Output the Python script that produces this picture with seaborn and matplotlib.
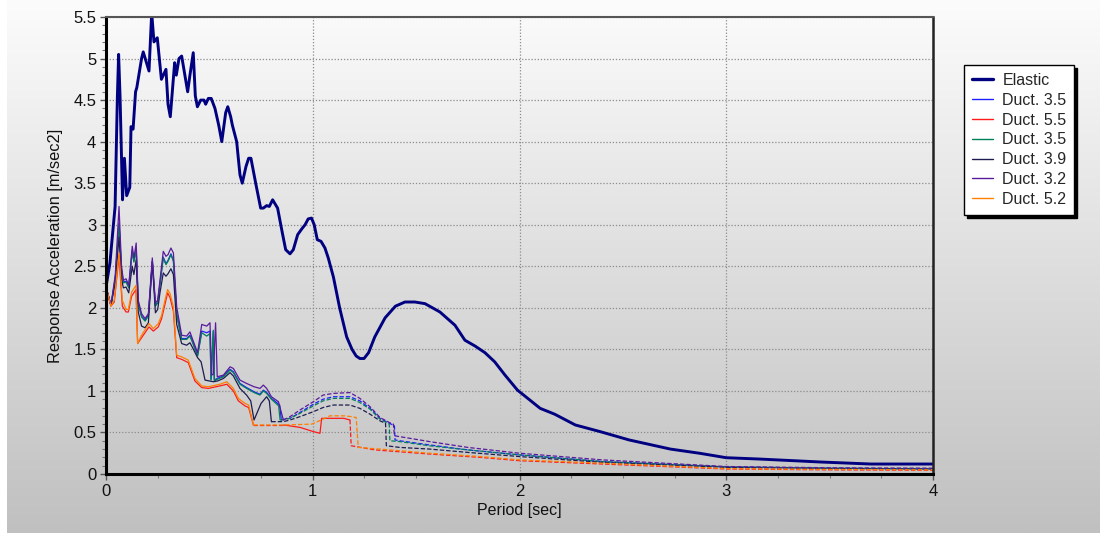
import numpy as np
import pandas as pd
import matplotlib
matplotlib.use("Agg")
import matplotlib.pyplot as plt
import seaborn as sns
from matplotlib.lines import Line2D
from matplotlib.ticker import MultipleLocator
from matplotlib.colors import LinearSegmentedColormap

# ---------------- data ----------------
elastic_T = [0, 0.019, 0.044, 0.055, 0.061, 0.068, 0.08, 0.089, 0.10, 0.115,
             0.121, 0.131, 0.143, 0.149, 0.172, 0.18, 0.208, 0.221, 0.232, 0.248,
             0.268, 0.29, 0.30, 0.311, 0.332, 0.34, 0.353, 0.366, 0.395, 0.406,
             0.422, 0.432, 0.442, 0.458, 0.474, 0.482, 0.495, 0.509, 0.527, 0.545,
             0.56, 0.579, 0.589, 0.603, 0.611, 0.632, 0.648, 0.659, 0.677, 0.69,
             0.701, 0.724, 0.748, 0.761, 0.777, 0.79, 0.806, 0.83, 0.853, 0.869,
             0.89, 0.906, 0.927, 0.947, 0.963, 0.978, 0.994, 1.007, 1.022, 1.04,
             1.059, 1.075, 1.10, 1.13, 1.164, 1.19, 1.21, 1.228, 1.248, 1.27,
             1.30, 1.35, 1.40, 1.446, 1.494, 1.543, 1.615, 1.688, 1.736, 1.785,
             1.833, 1.88, 1.93, 1.99, 2.05, 2.10, 2.17, 2.27, 2.39, 2.53,
             2.73, 2.87, 3.0, 3.16, 3.36, 3.45, 3.70, 4.0]
elastic_A = [2.25, 2.54, 3.22, 4.54, 5.05, 4.54, 3.30, 3.80, 3.35, 3.45,
             4.18, 4.15, 4.60, 4.65, 5.00, 5.08, 4.85, 5.55, 5.20, 5.25,
             4.75, 4.87, 4.45, 4.30, 4.95, 4.80, 5.00, 5.03, 4.60, 4.80,
             5.07, 4.55, 4.42, 4.50, 4.50, 4.45, 4.52, 4.52, 4.40, 4.20,
             4.00, 4.35, 4.42, 4.30, 4.20, 4.00, 3.60, 3.50, 3.70, 3.80,
             3.80, 3.50, 3.20, 3.20, 3.23, 3.22, 3.30, 3.20, 2.90, 2.70,
             2.65, 2.70, 2.88, 2.95, 3.00, 3.07, 3.08, 3.00, 2.82, 2.80,
             2.72, 2.60, 2.37, 2.00, 1.65, 1.50, 1.42, 1.39, 1.39, 1.46,
             1.65, 1.88, 2.02, 2.07, 2.07, 2.05, 1.95, 1.79, 1.61, 1.54,
             1.46, 1.35, 1.19, 1.01, 0.89, 0.79, 0.72, 0.59, 0.51, 0.41,
             0.30, 0.25, 0.196, 0.18, 0.156, 0.145, 0.12, 0.12]

duct35a_T = [0, 0.024, 0.045, 0.063, 0.075, 0.084, 0.097, 0.11, 0.127, 0.135,
             0.146, 0.156, 0.172, 0.189, 0.205, 0.224, 0.239, 0.25, 0.261, 0.277,
             0.29, 0.30, 0.314, 0.326, 0.342, 0.366, 0.39, 0.406, 0.419, 0.443,
             0.463, 0.487, 0.503, 0.508, 0.519, 0.524, 0.538, 0.568, 0.60, 0.616,
             0.648, 0.68, 0.716, 0.745, 0.761, 0.777, 0.80, 0.840, 0.848, 0.89,
             0.938, 1.003, 1.05, 1.10, 1.18, 1.228, 1.277, 1.325, 1.395, 1.398,
             1.42, 1.565, 1.75, 2.0, 2.4, 3.0, 3.5, 4.0]
duct35a_A = [2.25, 2.03, 2.36, 3.02, 2.46, 2.31, 2.32, 2.25, 2.69, 2.56,
             2.71, 2.06, 1.90, 1.85, 1.91, 2.56, 2.03, 2.07, 2.29, 2.61,
             2.53, 2.57, 2.65, 2.57, 1.93, 1.63, 1.63, 1.67, 1.59, 1.43,
             1.72, 1.70, 1.72, 1.14, 1.72, 1.13, 1.15, 1.18, 1.26, 1.23,
             1.09, 1.04, 0.99, 0.96, 1.01, 0.98, 0.91, 0.83, 0.65, 0.67,
             0.74, 0.84, 0.90, 0.93, 0.93, 0.88, 0.79, 0.67, 0.58, 0.41,
             0.40, 0.35, 0.29, 0.23, 0.15, 0.085, 0.07, 0.06]

duct55_T = [0, 0.024, 0.04, 0.063, 0.079, 0.097, 0.108, 0.124, 0.145, 0.153,
            0.172, 0.208, 0.229, 0.253, 0.269, 0.285, 0.298, 0.31, 0.326, 0.342,
            0.366, 0.398, 0.43, 0.463, 0.495, 0.551, 0.584, 0.616, 0.64, 0.672,
            0.69, 0.713, 0.86, 0.94, 1.003, 1.035, 1.043, 1.15, 1.18, 1.186,
            1.30, 1.565, 1.81, 2.0, 2.4, 3.0, 3.5, 4.0]
duct55_A = [2.25, 2.02, 2.07, 2.62, 2.02, 1.95, 1.95, 2.14, 2.22, 1.57,
            1.64, 1.77, 1.72, 1.77, 1.87, 2.04, 2.18, 2.12, 1.96, 1.40,
            1.38, 1.34, 1.12, 1.04, 1.03, 1.06, 1.08, 1.00, 0.88, 0.82,
            0.80, 0.59, 0.59, 0.56, 0.51, 0.49, 0.67, 0.67, 0.65, 0.34,
            0.29, 0.24, 0.20, 0.16, 0.12, 0.06, 0.05, 0.045]

duct35b_T = [0, 0.024, 0.045, 0.063, 0.075, 0.084, 0.097, 0.11, 0.127, 0.135,
             0.146, 0.156, 0.172, 0.189, 0.205, 0.224, 0.239, 0.25, 0.261, 0.277,
             0.29, 0.30, 0.314, 0.326, 0.342, 0.366, 0.39, 0.406, 0.419, 0.443,
             0.463, 0.487, 0.503, 0.508, 0.519, 0.524, 0.538, 0.568, 0.60, 0.616,
             0.648, 0.68, 0.716, 0.745, 0.761, 0.777, 0.80, 0.835, 0.842, 0.89,
             0.938, 1.003, 1.05, 1.10, 1.18, 1.228, 1.277, 1.325, 1.37, 1.373,
             1.42, 1.565, 1.75, 2.0, 2.4, 3.0, 3.5, 4.0]
duct35b_A = [2.25, 2.03, 2.35, 3.00, 2.45, 2.30, 2.31, 2.24, 2.68, 2.55,
             2.70, 2.05, 1.89, 1.84, 1.90, 2.55, 2.02, 2.06, 2.28, 2.60,
             2.52, 2.56, 2.64, 2.56, 1.92, 1.62, 1.62, 1.66, 1.58, 1.42,
             1.70, 1.66, 1.69, 1.13, 1.73, 1.12, 1.14, 1.17, 1.25, 1.22,
             1.08, 1.03, 0.98, 0.95, 1.00, 0.97, 0.90, 0.82, 0.65, 0.67,
             0.73, 0.82, 0.88, 0.91, 0.91, 0.86, 0.78, 0.66, 0.60, 0.40,
             0.39, 0.34, 0.29, 0.23, 0.15, 0.085, 0.07, 0.06]

duct39_T = [0, 0.024, 0.045, 0.063, 0.075, 0.084, 0.097, 0.11, 0.127, 0.135,
            0.146, 0.156, 0.172, 0.189, 0.205, 0.224, 0.239, 0.25, 0.261, 0.277,
            0.29, 0.30, 0.314, 0.326, 0.342, 0.366, 0.39, 0.406, 0.419, 0.443,
            0.46, 0.479, 0.52, 0.54, 0.568, 0.60, 0.616, 0.648, 0.68, 0.70,
            0.716, 0.75, 0.777, 0.79, 0.80, 0.858, 0.89, 0.938, 1.003, 1.05,
            1.10, 1.18, 1.228, 1.277, 1.325, 1.352, 1.356, 1.42, 1.565, 1.75,
            2.0, 2.4, 3.0, 3.5, 4.0]
duct39_A = [2.25, 2.03, 2.30, 2.85, 2.35, 2.24, 2.25, 2.18, 2.50, 2.40,
            2.58, 1.95, 1.78, 1.76, 1.82, 2.56, 1.94, 1.98, 2.18, 2.42,
            2.38, 2.41, 2.47, 2.40, 1.80, 1.57, 1.55, 1.58, 1.52, 1.40,
            1.35, 1.13, 1.11, 1.12, 1.15, 1.22, 1.18, 1.03, 0.95, 0.88,
            0.65, 0.85, 0.93, 0.88, 0.63, 0.63, 0.65, 0.69, 0.75, 0.80,
            0.83, 0.83, 0.79, 0.72, 0.64, 0.61, 0.34, 0.32, 0.30, 0.26,
            0.21, 0.14, 0.08, 0.065, 0.06]

duct32_T = [0, 0.024, 0.045, 0.063, 0.075, 0.084, 0.097, 0.11, 0.127, 0.135,
            0.146, 0.156, 0.172, 0.189, 0.205, 0.224, 0.239, 0.25, 0.261, 0.277,
            0.29, 0.30, 0.314, 0.326, 0.342, 0.366, 0.39, 0.406, 0.419, 0.443,
            0.463, 0.487, 0.503, 0.511, 0.519, 0.53, 0.538, 0.568, 0.60, 0.616,
            0.648, 0.68, 0.716, 0.745, 0.761, 0.777, 0.80, 0.834, 0.858, 0.89,
            0.938, 1.003, 1.05, 1.10, 1.18, 1.228, 1.277, 1.325, 1.37, 1.39,
            1.395, 1.42, 1.565, 1.75, 2.0, 2.4, 3.0, 3.5, 4.0]
duct32_A = [2.25, 2.03, 2.40, 3.22, 2.50, 2.33, 2.35, 2.27, 2.74, 2.60,
            2.78, 2.09, 1.93, 1.87, 1.93, 2.60, 2.06, 2.09, 2.33, 2.68,
            2.62, 2.64, 2.72, 2.66, 2.01, 1.67, 1.66, 1.71, 1.62, 1.46,
            1.80, 1.78, 1.82, 1.19, 1.20, 1.82, 1.17, 1.19, 1.29, 1.27,
            1.13, 1.09, 1.05, 1.03, 1.07, 1.03, 0.93, 0.87, 0.65, 0.69,
            0.77, 0.87, 0.95, 0.97, 0.98, 0.91, 0.81, 0.68, 0.62, 0.60,
            0.46, 0.45, 0.39, 0.32, 0.25, 0.17, 0.09, 0.075, 0.07]

duct52_T = [0, 0.024, 0.04, 0.063, 0.079, 0.097, 0.108, 0.124, 0.145, 0.153,
            0.172, 0.208, 0.229, 0.253, 0.269, 0.285, 0.298, 0.31, 0.326, 0.342,
            0.366, 0.398, 0.43, 0.463, 0.495, 0.551, 0.584, 0.616, 0.64, 0.672,
            0.69, 0.713, 0.858, 0.995, 1.05, 1.083, 1.15, 1.19, 1.21, 1.22,
            1.325, 1.565, 1.81, 2.0, 2.4, 3.0, 3.5, 4.0]
duct52_A = [2.25, 2.02, 2.09, 2.66, 2.09, 1.98, 1.98, 2.19, 2.27, 1.57,
            1.67, 1.81, 1.75, 1.81, 1.91, 2.09, 2.22, 2.17, 2.01, 1.43,
            1.41, 1.37, 1.15, 1.06, 1.05, 1.08, 1.11, 1.03, 0.91, 0.85,
            0.83, 0.59, 0.59, 0.60, 0.66, 0.70, 0.70, 0.69, 0.68, 0.32,
            0.30, 0.25, 0.21, 0.17, 0.13, 0.065, 0.055, 0.05]

series_labels = ["Elastic", "Duct. 3.5", "Duct. 5.5", "Duct. 3.5",
                 "Duct. 3.9", "Duct. 3.2", "Duct. 5.2"]
series_colors = ["#000080", "#1f1fff", "#ff1a1a", "#00805a",
                 "#1c1c50", "#5a1a9c", "#ff8000"]
series_T = [elastic_T, duct35a_T, duct55_T, duct35b_T, duct39_T, duct32_T, duct52_T]
series_A = [elastic_A, duct35a_A, duct55_A, duct35b_A, duct39_A, duct32_A, duct52_A]
# period ranges drawn dashed for each series
dashed_ranges = [[], [(0.848, 4.0)], [(0.713, 0.86), (1.18, 4.0)], [(0.842, 4.0)],
                 [(0.80, 4.0)], [(0.858, 4.0)], [(0.713, 4.0)]]
series_widths = [2.1, 0.9, 0.9, 0.9, 0.9, 0.9, 0.9]

x_ticks = [0, 1, 2, 3, 4]
y_ticks = [0, 0.5, 1, 1.5, 2, 2.5, 3, 3.5, 4, 4.5, 5, 5.5]
y_ticklabels = ["0", "0.5", "1", "1.5", "2", "2.5", "3", "3.5", "4", "4.5", "5", "5.5"]

# ---------------- style ----------------
sns.set_theme(style="white")
plt.rcParams['font.family'] = ['Liberation Sans', 'DejaVu Sans']

W, H = 1105, 533
fig = plt.figure(figsize=(W / 100, H / 100), dpi=100)
fig.patch.set_facecolor("white")

# gradient backdrop panel
bg = fig.add_axes([7 / W, 0, (1100 - 7) / W, 1], zorder=0)
grad = np.linspace(0, 1, 256).reshape(-1, 1)
cmap = LinearSegmentedColormap.from_list("bg", ["#fcfcfc", "#c0c0c0"])
bg.imshow(grad, aspect="auto", cmap=cmap, extent=[0, 1, 0, 1], origin="upper")
bg.set_axis_off()

ax = fig.add_axes([106 / W, (H - 474) / H, 827 / W, 457 / H], zorder=1)
ax.patch.set_alpha(0)


def split_runs(t, a, dashed):
    t = np.asarray(t, float)
    a = np.asarray(a, float)
    mids = (t[:-1] + t[1:]) / 2
    flags = np.array([any(lo <= m <= hi for lo, hi in dashed) for m in mids])
    runs = []
    start = 0
    for i in range(1, len(flags) + 1):
        if i == len(flags) or flags[i] != flags[start]:
            runs.append((t[start:i + 1], a[start:i + 1], bool(flags[start])))
            start = i
    return runs


for lab, col, tt, aa, dr, lw in zip(series_labels, series_colors, series_T,
                                     series_A, dashed_ranges, series_widths):
    for rt, ra, is_dash in split_runs(tt, aa, dr):
        df = pd.DataFrame({"Period": rt, "Accel": ra})
        sns.lineplot(data=df, x="Period", y="Accel", ax=ax, color=col, lw=lw,
                     linestyle=(0, (3.5, 1.6)) if is_dash else "-",
                     sort=False, estimator=None, legend=False, zorder=3)

ax.set_xlim(0, 4)
ax.set_ylim(0, 5.5)
ax.set_xticks(x_ticks)
ax.set_xticklabels([str(v) for v in x_ticks])
ax.set_yticks(y_ticks)
ax.set_yticklabels(y_ticklabels)
ax.xaxis.set_minor_locator(MultipleLocator(0.25))
ax.yaxis.set_minor_locator(MultipleLocator(0.1))
ax.tick_params(axis="both", which="major", direction="out", length=4, width=1,
               color="#555555", labelsize=12, labelcolor="#111111", pad=3,
               left=True, bottom=True)
ax.tick_params(axis="both", which="minor", direction="out", length=3, width=0.8,
               color="#777777", left=True, bottom=True)
ax.grid(True, which="major", color="#8c8c8c", linestyle=(0, (1, 1.5)), lw=0.9)

for side in ["left", "bottom"]:
    ax.spines[side].set_color("black")
    ax.spines[side].set_linewidth(2.2)
ax.spines["top"].set_color("#555555")
ax.spines["top"].set_linewidth(1.5)
ax.spines["right"].set_color("#222222")
ax.spines["right"].set_linewidth(1.8)
for s in ax.spines.values():
    s.set_visible(True)
    s.set_zorder(4)

ax.set_xlabel("Period [sec]", fontsize=11.5, color="#111111", labelpad=3)
ax.set_ylabel("Response Acceleration [m/sec2]", fontsize=11.8, color="#111111",
              labelpad=7)

handles = [Line2D([0], [0], color=c, lw=(2.4 if i == 0 else 1.0))
           for i, c in enumerate(series_colors)]
leg = fig.legend(handles, series_labels, loc="upper left",
                 bbox_to_anchor=(964 / W, 1 - 65 / H), borderaxespad=0,
                 fontsize=11.5, frameon=True, fancybox=False,
                 shadow={"facecolor": "black", "edgecolor": "black", "alpha": 1},
                 handlelength=1.3, handletextpad=0.6, labelspacing=0.3,
                 borderpad=0.5)
leg.get_frame().set_edgecolor("black")
leg.get_frame().set_linewidth(1.0)
leg.get_frame().set_facecolor("white")
leg.get_frame().set_alpha(1)

fig.savefig("out.png", dpi=100, facecolor=fig.get_facecolor())
